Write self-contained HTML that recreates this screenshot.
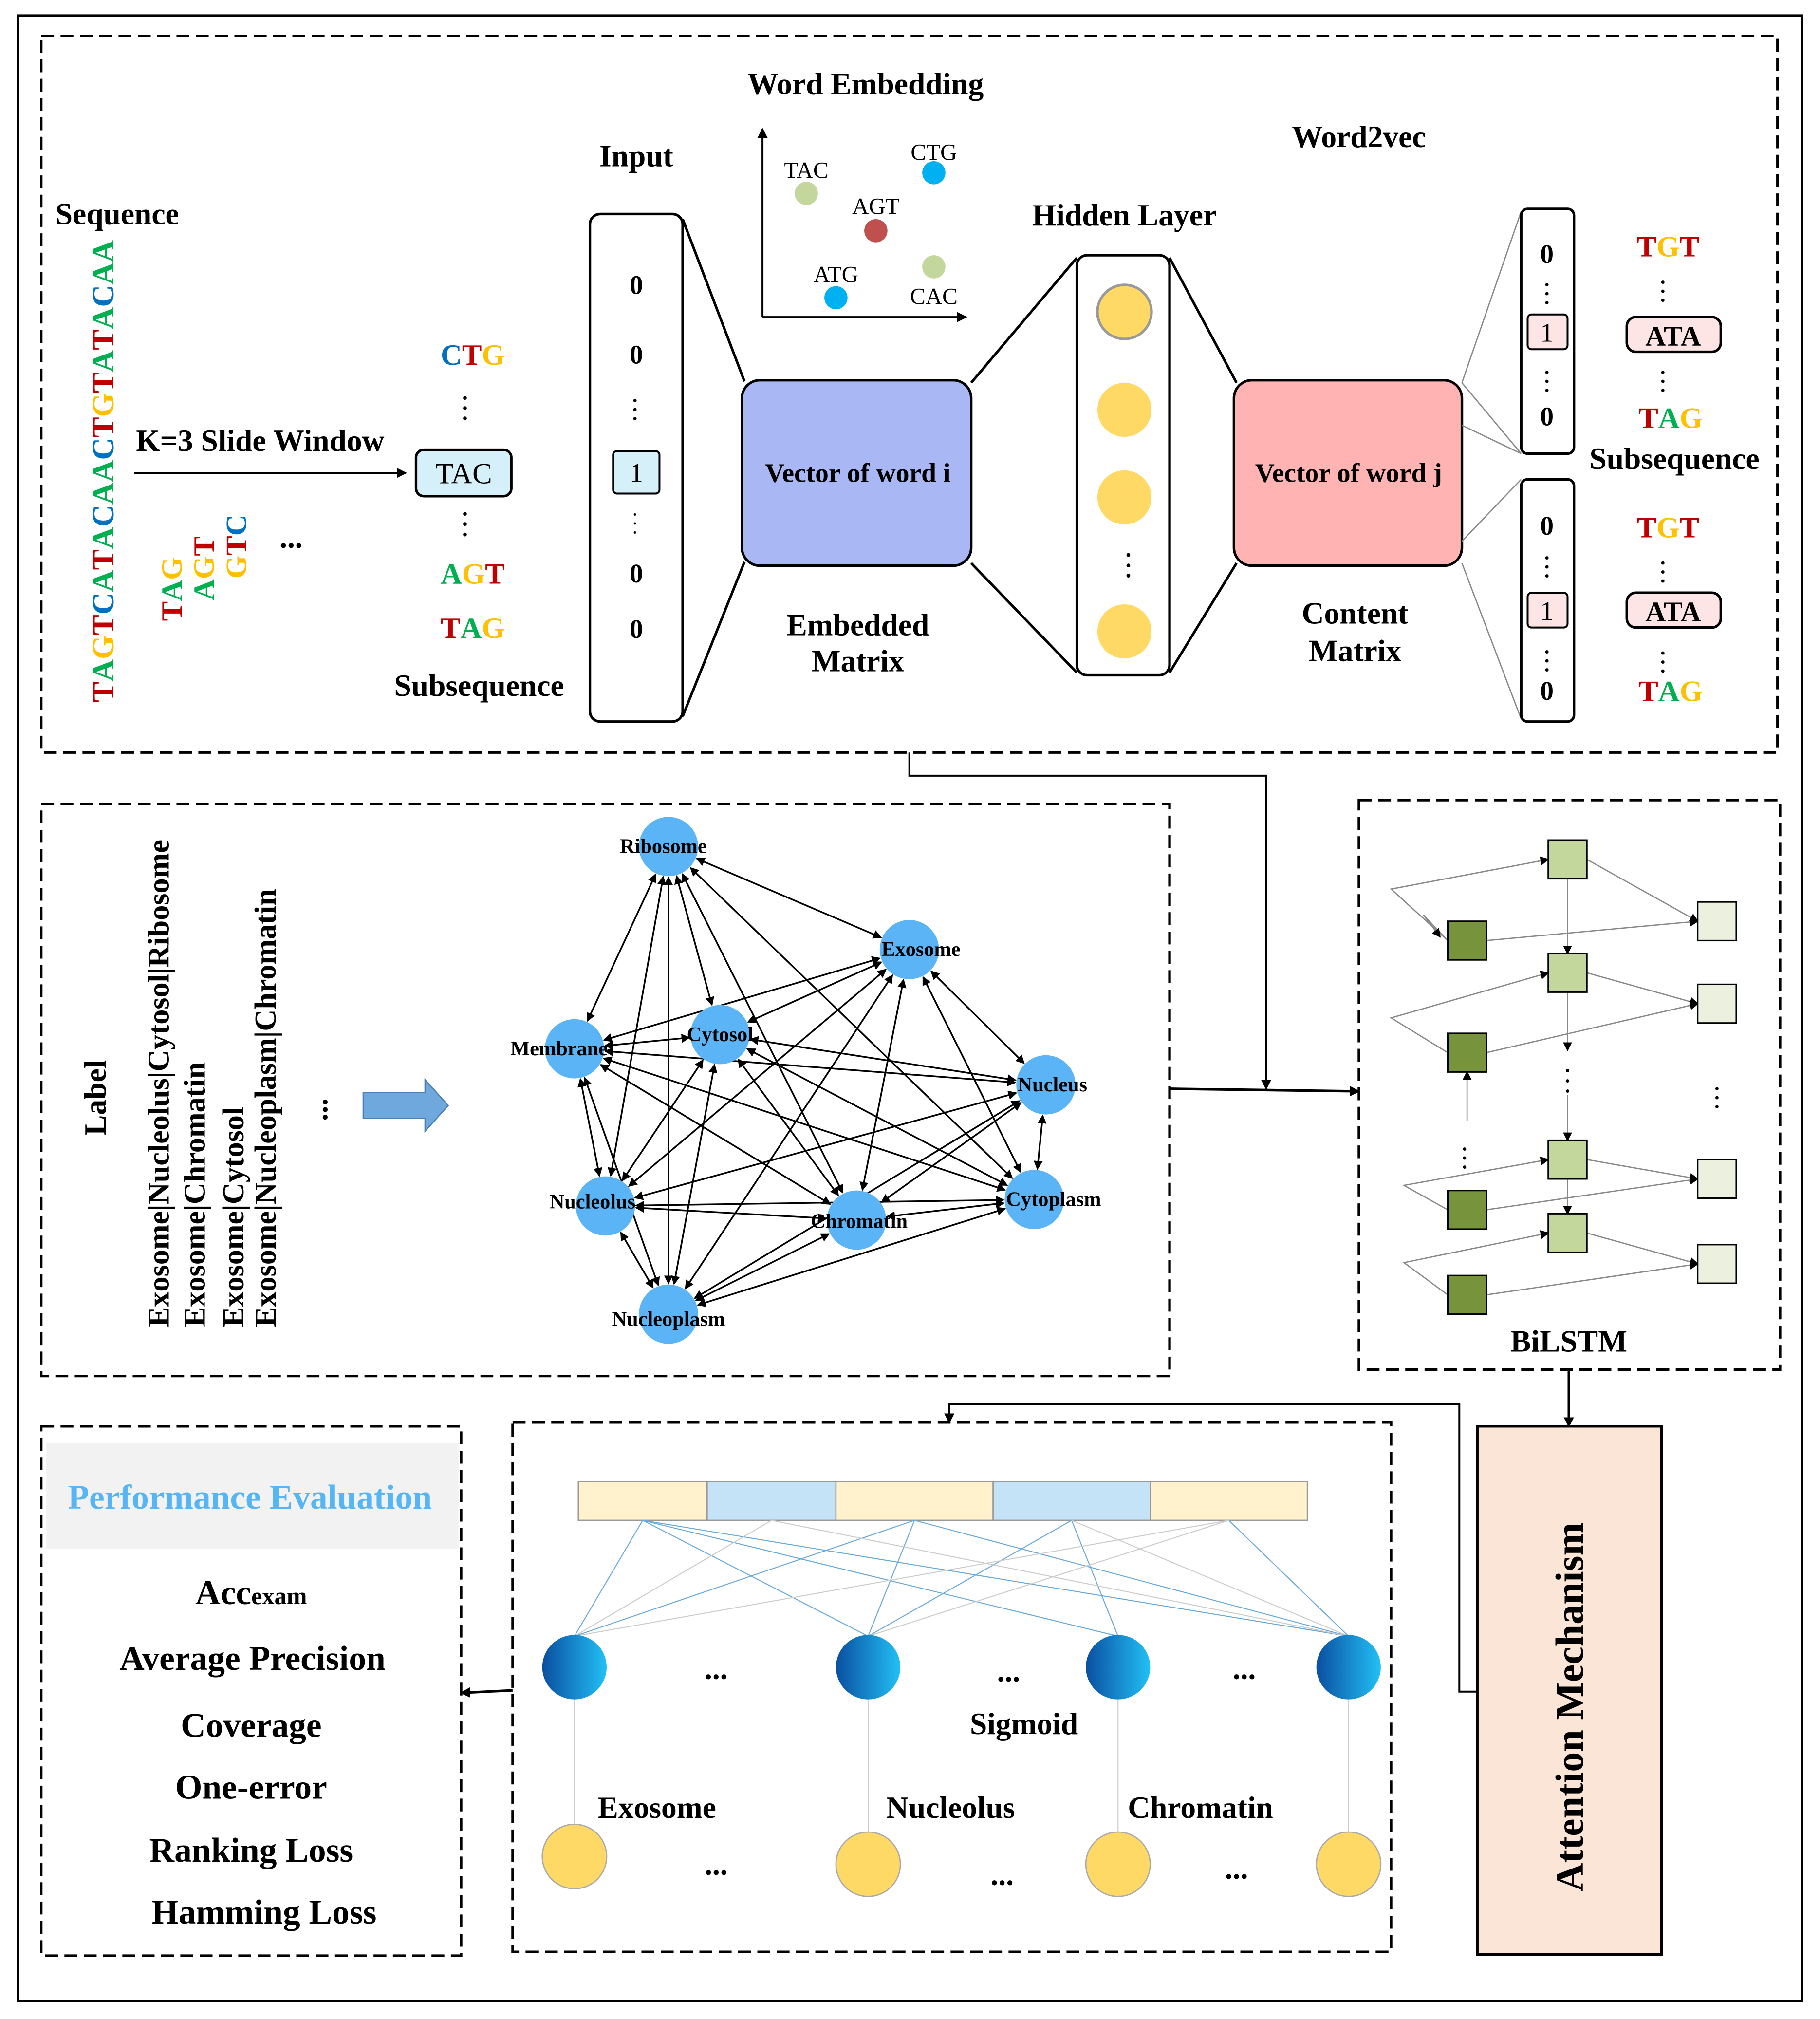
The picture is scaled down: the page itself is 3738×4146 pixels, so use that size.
<!DOCTYPE html>
<html><head><meta charset="utf-8"><style>html,body{margin:0;padding:0;background:#fff}svg{display:block}text{font-family:"Liberation Serif",serif;font-weight:bold}.n{font-weight:normal}</style></head><body>
<svg id="sv" width="3738" height="4146" viewBox="0 0 1413 1567" xmlns="http://www.w3.org/2000/svg">
<defs>
<marker id="a" markerWidth="8" markerHeight="8" refX="7" refY="4" orient="auto" markerUnits="userSpaceOnUse"><path d="M0,0L8,4L0,8z" fill="#000"/></marker>
<marker id="s" markerWidth="7" markerHeight="7" refX="6" refY="3.5" orient="auto-start-reverse" markerUnits="userSpaceOnUse"><path d="M0,0L7,3.5L0,7z" fill="#000"/></marker>
<linearGradient id="bg" x1="0" x2="1"><stop offset="0" stop-color="#0a4fa0"/><stop offset="1" stop-color="#22c0f5"/></linearGradient>
</defs>
<rect x="14" y="12" width="1385" height="1541" fill="none" stroke="#000" stroke-width="2"/>
<g fill="none" stroke="#000" stroke-width="2" stroke-dasharray="10,5">
<rect x="32" y="28" width="1348" height="556"/>
<rect x="32" y="624" width="876" height="444"/>
<rect x="1055" y="621" width="327" height="442"/>
<rect x="32" y="1107" width="326" height="411"/>
<rect x="398" y="1104" width="682" height="411"/>
</g>
<g font-size="24" text-anchor="middle">
<text x="91" y="174">Sequence</text>
<text transform="translate(88,545) rotate(-90)" font-size="24" text-anchor="start"><tspan fill="#c00000">T</tspan><tspan fill="#00b050">A</tspan><tspan fill="#ffc000">G</tspan><tspan fill="#c00000">T</tspan><tspan fill="#0070c0">C</tspan><tspan fill="#00b050">A</tspan><tspan fill="#c00000">T</tspan><tspan fill="#00b050">A</tspan><tspan fill="#0070c0">C</tspan><tspan fill="#00b050">AA</tspan><tspan fill="#0070c0">C</tspan><tspan fill="#c00000">T</tspan><tspan fill="#ffc000">G</tspan><tspan fill="#c00000">T</tspan><tspan fill="#00b050">A</tspan><tspan fill="#c00000">T</tspan><tspan fill="#00b050">A</tspan><tspan fill="#0070c0">C</tspan><tspan fill="#00b050">AA</tspan></text>
<text x="202" y="350">K=3 Slide Window</text>
<line x1="104" y1="367" x2="315" y2="367" stroke="#000" stroke-width="1.5" marker-end="url(#a)"/>
<text transform="translate(141,482) rotate(-90)" text-anchor="start" font-size="23"><tspan fill="#c00000">T</tspan><tspan fill="#00b050">A</tspan><tspan fill="#ffc000">G</tspan></text>
<text transform="translate(166,466) rotate(-90)" text-anchor="start" font-size="23"><tspan fill="#00b050">A</tspan><tspan fill="#ffc000">G</tspan><tspan fill="#c00000">T</tspan></text>
<text transform="translate(191,449) rotate(-90)" text-anchor="start" font-size="23"><tspan fill="#ffc000">G</tspan><tspan fill="#c00000">T</tspan><tspan fill="#0070c0">C</tspan></text>
<text x="226" y="425">...</text>
<text x="367" y="283" font-size="23"><tspan fill="#0070c0">C</tspan><tspan fill="#c00000">T</tspan><tspan fill="#ffc000">G</tspan></text>
<text x="361" y="310" font-size="18">.</text><text x="361" y="318" font-size="18">.</text><text x="361" y="326" font-size="18">.</text>
<rect x="323" y="349" width="74" height="36" rx="6" fill="#d6f0fa" stroke="#000" stroke-width="2"/>
<text x="360" y="375" class="n" font-size="23">TAC</text>
<text x="361" y="400" font-size="18">.</text><text x="361" y="408" font-size="18">.</text><text x="361" y="416" font-size="18">.</text>
<text x="367" y="453" font-size="23"><tspan fill="#00b050">A</tspan><tspan fill="#ffc000">G</tspan><tspan fill="#c00000">T</tspan></text>
<text x="367" y="495" font-size="23"><tspan fill="#c00000">T</tspan><tspan fill="#00b050">A</tspan><tspan fill="#ffc000">G</tspan></text>
<text x="372" y="540">Subsequence</text>
<text x="494" y="129">Input</text>
<rect x="458" y="166" width="72" height="394" rx="8" fill="#fff" stroke="#000" stroke-width="2"/>
<text x="494" y="228" font-size="21">0</text><text x="494" y="282" font-size="21">0</text>
<text x="493" y="312" font-size="16">.</text><text x="493" y="319" font-size="16">.</text><text x="493" y="326" font-size="16">.</text>
<rect x="476" y="350" width="36" height="33" rx="3" fill="#d6f0fa" stroke="#000" stroke-width="1.5"/>
<text x="494" y="374" class="n" font-size="21">1</text>
<text x="493" y="400" font-size="16" class="n">.</text><text x="493" y="407" font-size="16" class="n">.</text><text x="493" y="414" font-size="16" class="n">.</text>
<text x="494" y="452" font-size="21">0</text><text x="494" y="495" font-size="21">0</text>
<g stroke="#000" stroke-width="2"><line x1="530" y1="170" x2="578" y2="296"/><line x1="530" y1="556" x2="578" y2="436"/>
<line x1="754" y1="297" x2="836" y2="200"/><line x1="754" y1="437" x2="836" y2="522"/><line x1="908" y1="200" x2="960" y2="297"/><line x1="908" y1="522" x2="960" y2="437"/></g>
<rect x="576" y="295" width="178" height="144" rx="14" fill="#a9b8f5" stroke="#000" stroke-width="2"/>
<text x="666" y="374" font-size="21">Vector of word i</text>
<text x="666" y="493">Embedded</text><text x="666" y="521">Matrix</text>
<text x="672" y="73">Word Embedding</text>
<line x1="592" y1="246" x2="592" y2="100" stroke="#000" stroke-width="1.5" marker-end="url(#a)"/>
<line x1="592" y1="246" x2="750" y2="246" stroke="#000" stroke-width="1.5" marker-end="url(#a)"/>
<g font-size="18">
<text x="626" y="138" class="n">TAC</text><text x="680" y="166" class="n">AGT</text><text x="725" y="124" class="n">CTG</text><text x="649" y="219" class="n">ATG</text><text x="725" y="236" class="n">CAC</text></g>
<circle cx="626" cy="150" r="9" fill="#c3d69b"/><circle cx="680" cy="179" r="9" fill="#c0504d"/><circle cx="725" cy="134" r="9" fill="#00b0f0"/><circle cx="649" cy="231" r="9" fill="#00b0f0"/><circle cx="725" cy="207" r="9" fill="#c3d69b"/>
<text x="873" y="175">Hidden Layer</text>
<rect x="836" y="198" width="72" height="326" rx="8" fill="#fff" stroke="#000" stroke-width="2"/>
<circle cx="873" cy="242" r="21" fill="#ffd966" stroke="#999" stroke-width="2"/>
<circle cx="873" cy="318" r="21" fill="#ffd966"/><circle cx="873" cy="386" r="21" fill="#ffd966"/><circle cx="873" cy="490" r="21" fill="#ffd966"/>
<text x="876" y="432" font-size="18">.</text><text x="876" y="440" font-size="18">.</text><text x="876" y="448" font-size="18">.</text>
<rect x="958" y="295" width="177" height="144" rx="14" fill="#ffb3b3" stroke="#000" stroke-width="2"/>
<text x="1047" y="374" font-size="21">Vector of word j</text>
<text x="1055" y="114">Word2vec</text>
<text x="1052" y="484">Content</text><text x="1052" y="513">Matrix</text>
<g stroke="#888" stroke-width="1"><line x1="1135" y1="297" x2="1181" y2="164"/><line x1="1135" y1="330" x2="1181" y2="352"/><line x1="1135" y1="420" x2="1181" y2="372"/><line x1="1135" y1="437" x2="1181" y2="558"/><line x1="1135" y1="297" x2="1181" y2="352"/></g>
<rect x="1181" y="162" width="41" height="190" rx="5" fill="#fff" stroke="#000" stroke-width="2"/>
<rect x="1181" y="372" width="41" height="188" rx="5" fill="#fff" stroke="#000" stroke-width="2"/>
<g font-size="21"><text x="1201" y="204">0</text><text x="1201" y="330">0</text><text x="1201" y="415">0</text><text x="1201" y="543">0</text></g>
<rect x="1186" y="244" width="31" height="27" rx="3" fill="#fde5e5" stroke="#000" stroke-width="1.5"/><text x="1201" y="265" class="n" font-size="21">1</text>
<rect x="1186" y="460" width="31" height="27" rx="3" fill="#fde5e5" stroke="#000" stroke-width="1.5"/><text x="1201" y="481" class="n" font-size="21">1</text>
<g font-size="16"><text x="1201" y="222">.</text><text x="1201" y="229">.</text><text x="1201" y="236">.</text><text x="1201" y="290">.</text><text x="1201" y="297">.</text><text x="1201" y="304">.</text>
<text x="1201" y="434">.</text><text x="1201" y="441">.</text><text x="1201" y="448">.</text><text x="1201" y="507">.</text><text x="1201" y="514">.</text><text x="1201" y="521">.</text>
<text x="1291" y="220">.</text><text x="1291" y="227">.</text><text x="1291" y="234">.</text><text x="1291" y="290">.</text><text x="1291" y="297">.</text><text x="1291" y="304">.</text>
<text x="1291" y="438">.</text><text x="1291" y="445">.</text><text x="1291" y="452">.</text><text x="1291" y="508">.</text><text x="1291" y="515">.</text><text x="1291" y="522">.</text></g>
<text x="1295" y="199" font-size="23"><tspan fill="#c00000">T</tspan><tspan fill="#ffc000">G</tspan><tspan fill="#c00000">T</tspan></text>
<rect x="1263" y="246" width="73" height="27" rx="7" fill="#fde5e5" stroke="#000" stroke-width="2"/><text x="1299" y="268" font-size="22">ATA</text>
<text x="1297" y="332" font-size="23"><tspan fill="#c00000">T</tspan><tspan fill="#00b050">A</tspan><tspan fill="#ffc000">G</tspan></text>
<text x="1300" y="364">Subsequence</text>
<text x="1295" y="417" font-size="23"><tspan fill="#c00000">T</tspan><tspan fill="#ffc000">G</tspan><tspan fill="#c00000">T</tspan></text>
<rect x="1263" y="460" width="73" height="27" rx="7" fill="#fde5e5" stroke="#000" stroke-width="2"/><text x="1299" y="482" font-size="22">ATA</text>
<text x="1297" y="544" font-size="23"><tspan fill="#c00000">T</tspan><tspan fill="#00b050">A</tspan><tspan fill="#ffc000">G</tspan></text>
<polyline points="706,584 706,602 983,602 983,845" fill="none" stroke="#000" stroke-width="1.5" marker-end="url(#a)"/>
<line x1="908" y1="845" x2="1055" y2="847" stroke="#000" stroke-width="2" marker-end="url(#a)"/>
<text transform="translate(82,852) rotate(-90)">Label</text>
<g text-anchor="start" font-size="23.5"><text transform="translate(131,1030) rotate(-90)">Exosome|Nucleolus|Cytosol|Ribosome</text>
<text transform="translate(159,1030) rotate(-90)">Exosome|Chromatin</text>
<text transform="translate(189,1030) rotate(-90)">Exosome|Cytosol</text>
<text transform="translate(214,1030) rotate(-90)">Exosome|Nucleoplasm|Chromatin</text>
<text transform="translate(254,870) rotate(-90)">...</text></g>
<path d="M282,848H330V838L348,858L330,878V868H282Z" fill="#6fa8dc" stroke="#4a7fb5"/>
<g id="edges" stroke="#000" stroke-width="1.3" fill="none"></g>
<g fill="#5bb4f5"><circle cx="519" cy="657" r="23"/><circle cx="706" cy="737" r="23"/><circle cx="446" cy="814" r="23"/><circle cx="559" cy="803" r="23"/><circle cx="812" cy="842" r="23"/><circle cx="470" cy="936" r="23"/><circle cx="665" cy="947" r="23"/><circle cx="803" cy="931" r="23"/><circle cx="519" cy="1020" r="23"/></g>
<g font-size="16"><text x="515" y="662">Ribosome</text><text x="715" y="742">Exosome</text><text x="434" y="819">Membrane</text><text x="559" y="808">Cytosol</text><text x="817" y="847">Nucleus</text><text x="460" y="938">Nucleolus</text><text x="667" y="953">Chromatin</text><text x="818" y="936">Cytoplasm</text><text x="519" y="1029">Nucleoplasm</text></g>
<g stroke="#888" stroke-width="1" fill="none" marker-end="url(#s)">
<polyline points="1124,730 1080,690 1202,667"/><polyline points="1232,667 1318,715"/><line x1="1154" y1="730" x2="1318" y2="715"/>
<polyline points="1124,817 1080,790 1202,755"/><line x1="1232" y1="755" x2="1318" y2="779"/><line x1="1154" y1="817" x2="1318" y2="779"/>
<polyline points="1124,939 1090,920 1202,900"/><line x1="1232" y1="900" x2="1318" y2="915"/><line x1="1154" y1="939" x2="1318" y2="915"/>
<polyline points="1124,1005 1090,980 1202,957"/><line x1="1232" y1="957" x2="1318" y2="981"/><line x1="1154" y1="1005" x2="1318" y2="981"/>
<polyline points="1124,730 1105,710 1118,727" /><line x1="1217" y1="682" x2="1217" y2="740"/><line x1="1217" y1="770" x2="1217" y2="815"/><line x1="1217" y1="850" x2="1217" y2="885"/><line x1="1217" y1="915" x2="1217" y2="942"/><line x1="1139" y1="870" x2="1139" y2="832"/>
</g>
<g stroke="#000" stroke-width="1.2"><g fill="#77933c"><rect x="1124" y="715" width="30" height="30"/><rect x="1124" y="802" width="30" height="30"/><rect x="1124" y="924" width="30" height="30"/><rect x="1124" y="990" width="30" height="30"/></g>
<g fill="#c3d69b"><rect x="1202" y="652" width="30" height="30"/><rect x="1202" y="740" width="30" height="30"/><rect x="1202" y="885" width="30" height="30"/><rect x="1202" y="942" width="30" height="30"/></g>
<g fill="#ebf1de"><rect x="1318" y="700" width="30" height="30"/><rect x="1318" y="764" width="30" height="30"/><rect x="1318" y="900" width="30" height="30"/><rect x="1318" y="966" width="30" height="30"/></g></g>
<g font-size="16"><text x="1217" y="832">.</text><text x="1217" y="840">.</text><text x="1217" y="848">.</text><text x="1333" y="846">.</text><text x="1333" y="853">.</text><text x="1333" y="860">.</text><text x="1137" y="893">.</text><text x="1137" y="900">.</text><text x="1137" y="907">.</text></g>
<text x="1218" y="1049">BiLSTM</text>
<line x1="1218" y1="1063" x2="1218" y2="1107" stroke="#000" stroke-width="2" marker-end="url(#a)"/>
<polyline points="1147,1313 1133,1313 1133,1090 737,1090 737,1104" fill="none" stroke="#000" stroke-width="1.5" marker-end="url(#a)"/>
<rect x="1147" y="1107" width="143" height="410" fill="#fbe5d6" stroke="#000" stroke-width="2"/>
<text transform="translate(1229,1325) rotate(-90)" font-size="31">Attention Mechanism</text>
<rect x="449" y="1150" width="100" height="30" fill="#fff2cc" stroke="#999"/><rect x="549" y="1150" width="100" height="30" fill="#c5e3f7" stroke="#999"/><rect x="649" y="1150" width="122" height="30" fill="#fff2cc" stroke="#999"/><rect x="771" y="1150" width="122" height="30" fill="#c5e3f7" stroke="#999"/><rect x="893" y="1150" width="122" height="30" fill="#fff2cc" stroke="#999"/>
<g stroke-width="0.8" fill="none">
<g stroke="#6aaad8"><line x1="499" y1="1180" x2="446" y2="1270"/><line x1="499" y1="1180" x2="674" y2="1270"/><line x1="499" y1="1180" x2="868" y2="1270"/><line x1="499" y1="1180" x2="1047" y2="1270"/>
<line x1="710" y1="1180" x2="446" y2="1270"/><line x1="710" y1="1180" x2="674" y2="1270"/><line x1="710" y1="1180" x2="1047" y2="1270"/>
<line x1="832" y1="1180" x2="674" y2="1270"/><line x1="832" y1="1180" x2="868" y2="1270"/><line x1="954" y1="1180" x2="1047" y2="1270"/></g>
<g stroke="#ccc"><line x1="599" y1="1180" x2="446" y2="1270"/><line x1="599" y1="1180" x2="1047" y2="1270"/><line x1="954" y1="1180" x2="674" y2="1270"/><line x1="954" y1="1180" x2="446" y2="1270"/><line x1="832" y1="1180" x2="1047" y2="1270"/>
<line x1="446" y1="1319" x2="446" y2="1416"/><line x1="674" y1="1319" x2="674" y2="1422"/><line x1="868" y1="1319" x2="868" y2="1422"/><line x1="1047" y1="1319" x2="1047" y2="1422"/></g></g>
<g fill="url(#bg)"><circle cx="446" cy="1294" r="25"/><circle cx="674" cy="1294" r="25"/><circle cx="868" cy="1294" r="25"/><circle cx="1047" cy="1294" r="25"/></g>
<g fill="#ffd966" stroke="#aaa"><circle cx="446" cy="1441" r="25"/><circle cx="674" cy="1447" r="25"/><circle cx="868" cy="1447" r="25"/><circle cx="1047" cy="1447" r="25"/></g>
<text x="556" y="1303">...</text><text x="783" y="1305">...</text><text x="966" y="1303">...</text>
<text x="795" y="1346">Sigmoid</text>
<text x="510" y="1411">Exosome</text><text x="738" y="1411">Nucleolus</text><text x="932" y="1411">Chromatin</text>
<text x="556" y="1455">...</text><text x="778" y="1463">...</text><text x="960" y="1458">...</text>
<line x1="398" y1="1312" x2="358" y2="1314" stroke="#000" stroke-width="2" marker-end="url(#a)"/>
<rect x="36" y="1120" width="320" height="82" fill="#f2f2f2"/>
<text x="194" y="1171" fill="#55b5f5" font-size="27">Performance Evaluation</text>
<g font-size="27"><text x="195" y="1245">Acc<tspan font-size="19">exam</tspan></text><text x="196" y="1296">Average Precision</text><text x="195" y="1348">Coverage</text><text x="195" y="1396">One-error</text><text x="195" y="1445">Ranking Loss</text><text x="205" y="1493">Hamming Loss</text></g>
</g>
<script>
(function(){
var N={R:[519,657],E:[706,737],M:[446,814],C:[559,803],U:[812,842],L:[470,936],H:[665,947],Y:[803,931],P:[519,1020]};
var pairs="RM RC RL RP RH RY RE EM EC EU EH EP EY EL MC MU ML MH MY MP CU CL CH CP CY UY UL UH UP LH LY LP HY PY PH".split(" ");
var g=document.getElementById("edges"),ns="http://www.w3.org/2000/svg";
pairs.forEach(function(p){var a=N[p[0]],b=N[p[1]];var dx=b[0]-a[0],dy=b[1]-a[1],d=Math.sqrt(dx*dx+dy*dy),r=24;
var l=document.createElementNS(ns,"line");
l.setAttribute("x1",a[0]+dx/d*r);l.setAttribute("y1",a[1]+dy/d*r);l.setAttribute("x2",b[0]-dx/d*r);l.setAttribute("y2",b[1]-dy/d*r);
l.setAttribute("marker-start","url(#s)");l.setAttribute("marker-end","url(#s)");g.appendChild(l);});
})();
</script>
</svg>
</body></html>
